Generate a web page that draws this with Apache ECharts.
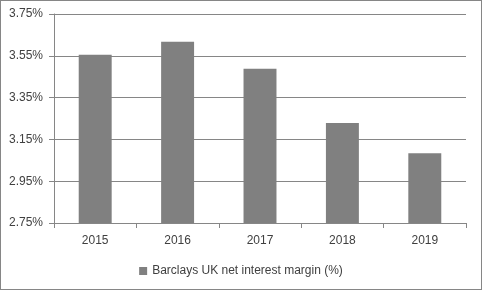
<!DOCTYPE html>
<html><head><meta charset="utf-8">
<script src="https://cdn.jsdelivr.net/npm/echarts@6/dist/echarts.min.js"></script>
<style>html,body{margin:0;padding:0;background:#fff}#c{width:482px;height:290px;box-sizing:border-box;border:1px solid #868686}</style>
</head><body><div id="c"></div>
<script>
const categories = ['2015','2016','2017','2018','2019'];
const seriesName = 'Barclays UK net interest margin (%)';
const nimValues = [3.555, 3.617, 3.488, 3.228, 3.084];
const yMin = 2.75, yMax = 3.75, yStep = 0.2;

const chart = echarts.init(document.getElementById('c'), null, {renderer:'canvas'});
const font = 'Liberation Sans';
chart.setOption({
  animation:false,
  grid:{left:53, right:15, top:13, bottom:66, containLabel:false},
  legend:{bottom:7, left:'center', itemWidth:8, itemHeight:8, itemGap:4, icon:'rect',
    textStyle:{fontFamily:font, fontSize:12, color:'#404040'}, data:[seriesName]},
  xAxis:{type:'category', data:categories,
    axisLine:{lineStyle:{color:'#868686'}},
    axisTick:{show:true, alignWithLabel:false, length:5, lineStyle:{color:'#868686'}},
    axisLabel:{fontFamily:font, fontSize:12, color:'#404040', margin:12}},
  yAxis:{type:'value', min:yMin, max:yMax, interval:yStep,
    axisLine:{show:true, lineStyle:{color:'#868686'}},
    axisTick:{show:true, length:5, inside:false, lineStyle:{color:'#868686'}},
    splitLine:{lineStyle:{color:'#868686'}},
    axisLabel:{fontFamily:font, fontSize:12, color:'#404040', margin:11,
      formatter:v=>v.toFixed(2)+'%'}},
  series:[{name:seriesName, type:'bar', data:nimValues, barWidth:'40%',
    itemStyle:{color:'#808080'}}]
});
</script></body></html>
